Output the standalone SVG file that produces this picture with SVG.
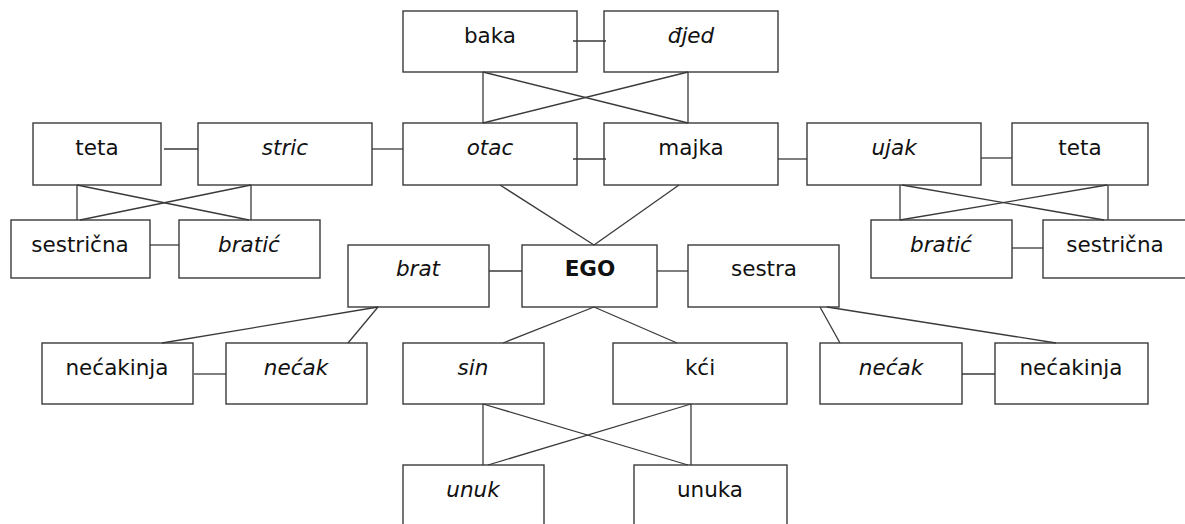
<svg xmlns="http://www.w3.org/2000/svg" width="1185" height="524" viewBox="0 0 1185 524">
  <style>
    .box { fill: #ffffff; stroke: #3a3a3a; stroke-width: 1.4; }
    .lbl { font-family: "DejaVu Sans", Verdana, sans-serif; font-size: 21.5px; fill: #111; text-anchor: middle; }
    .it { font-style: italic; }
    .bd { font-weight: bold; }
    .conn line { stroke: #3a3a3a; stroke-width: 1.3; fill: none; }
  </style>
  <rect width="1185" height="524" fill="#ffffff"/>

  <g id="baka"><rect class="box" x="403" y="11" width="174" height="61"/><text class="lbl" x="490" y="43">baka</text></g>
  <g id="djed"><rect class="box" x="604" y="11" width="174" height="61"/><text class="lbl it" x="691" y="43">đjed</text></g>

  <g id="teta-l"><rect class="box" x="33" y="123" width="128" height="62"/><text class="lbl" x="97" y="155">teta</text></g>
  <g id="stric"><rect class="box" x="198" y="123" width="174" height="62"/><text class="lbl it" x="285" y="155">stric</text></g>
  <g id="otac"><rect class="box" x="403" y="123" width="174" height="62"/><text class="lbl it" x="490" y="155">otac</text></g>
  <g id="majka"><rect class="box" x="604" y="123" width="174" height="62"/><text class="lbl" x="691" y="155">majka</text></g>
  <g id="ujak"><rect class="box" x="807" y="123" width="174" height="62"/><text class="lbl it" x="894" y="155">ujak</text></g>
  <g id="teta-r"><rect class="box" x="1012" y="123" width="136" height="62"/><text class="lbl" x="1080" y="155">teta</text></g>

  <g id="sestricna-l"><rect class="box" x="11" y="220" width="139" height="58"/><text class="lbl" x="80" y="252">sestrična</text></g>
  <g id="bratic-l"><rect class="box" x="179" y="220" width="141" height="58"/><text class="lbl it" x="249" y="252">bratić</text></g>
  <g id="bratic-r"><rect class="box" x="871" y="220" width="141" height="58"/><text class="lbl it" x="941" y="252">bratić</text></g>
  <g id="sestricna-r"><rect class="box" x="1043" y="220" width="143" height="58"/><text class="lbl" x="1115" y="252">sestrična</text></g>

  <g id="brat"><rect class="box" x="348" y="245" width="141" height="62"/><text class="lbl it" x="418" y="276">brat</text></g>
  <g id="ego"><rect class="box" x="522" y="245" width="135" height="62"/><text class="lbl bd" x="590" y="276">EGO</text></g>
  <g id="sestra"><rect class="box" x="688" y="245" width="151" height="62"/><text class="lbl" x="764" y="276">sestra</text></g>

  <g id="necakinja-l"><rect class="box" x="42" y="343" width="151" height="61"/><text class="lbl" x="117" y="375">nećakinja</text></g>
  <g id="necak-l"><rect class="box" x="226" y="343" width="141" height="61"/><text class="lbl it" x="296" y="375">nećak</text></g>
  <g id="sin"><rect class="box" x="403" y="343" width="141" height="61"/><text class="lbl it" x="473" y="375">sin</text></g>
  <g id="kci"><rect class="box" x="613" y="343" width="174" height="61"/><text class="lbl" x="700" y="375">kći</text></g>
  <g id="necak-r"><rect class="box" x="820" y="343" width="142" height="61"/><text class="lbl it" x="891" y="375">nećak</text></g>
  <g id="necakinja-r"><rect class="box" x="995" y="343" width="153" height="61"/><text class="lbl" x="1071" y="375">nećakinja</text></g>

  <g id="unuk"><rect class="box" x="403" y="465" width="141" height="64"/><text class="lbl it" x="473" y="497">unuk</text></g>
  <g id="unuka"><rect class="box" x="634" y="465" width="153" height="64"/><text class="lbl" x="710" y="497">unuka</text></g>

  <!-- connectors, drawn over the boxes -->
  <g id="connectors" class="conn">
    <!-- grandparents -->
    <line x1="573" y1="41" x2="606" y2="41"/>
    <line x1="483" y1="72" x2="483" y2="123"/>
    <line x1="688" y1="72" x2="688" y2="123"/>
    <line x1="483" y1="72" x2="688" y2="123"/>
    <line x1="688" y1="72" x2="483" y2="123"/>
    <!-- parents row -->
    <line x1="164" y1="149" x2="198" y2="149"/>
    <line x1="372" y1="149" x2="403" y2="149"/>
    <line x1="573" y1="159" x2="606" y2="159"/>
    <line x1="778" y1="159" x2="807" y2="159"/>
    <line x1="981" y1="158" x2="1012" y2="158"/>
    <!-- left cousins -->
    <line x1="77" y1="185" x2="77" y2="220"/>
    <line x1="251" y1="185" x2="251" y2="220"/>
    <line x1="77" y1="185" x2="249" y2="220"/>
    <line x1="251" y1="185" x2="80" y2="220"/>
    <line x1="150" y1="245" x2="179" y2="245"/>
    <!-- right cousins -->
    <line x1="900" y1="185" x2="900" y2="220"/>
    <line x1="1108" y1="185" x2="1108" y2="220"/>
    <line x1="902" y1="185" x2="1104" y2="220"/>
    <line x1="1107" y1="185" x2="900" y2="220"/>
    <line x1="1012" y1="248" x2="1043" y2="248"/>
    <!-- parents to EGO -->
    <line x1="500" y1="185" x2="594" y2="245"/>
    <line x1="679" y1="185" x2="594" y2="245"/>
    <!-- siblings -->
    <line x1="489" y1="271" x2="522" y2="271"/>
    <line x1="657" y1="271" x2="688" y2="271"/>
    <!-- brat's children -->
    <line x1="378" y1="307" x2="162" y2="343"/>
    <line x1="378" y1="307" x2="348" y2="343"/>
    <line x1="194" y1="374" x2="226" y2="374"/>
    <!-- sestra's children -->
    <line x1="820" y1="307" x2="840" y2="343"/>
    <line x1="827" y1="307" x2="1056" y2="343"/>
    <line x1="962" y1="374" x2="995" y2="374"/>
    <!-- EGO's children -->
    <line x1="594" y1="307" x2="503" y2="343"/>
    <line x1="594" y1="307" x2="677" y2="343"/>
    <!-- grandchildren -->
    <line x1="483" y1="404" x2="483" y2="465"/>
    <line x1="691" y1="404" x2="691" y2="465"/>
    <line x1="483" y1="404" x2="688" y2="465"/>
    <line x1="691" y1="404" x2="488" y2="465"/>
  </g>
</svg>
